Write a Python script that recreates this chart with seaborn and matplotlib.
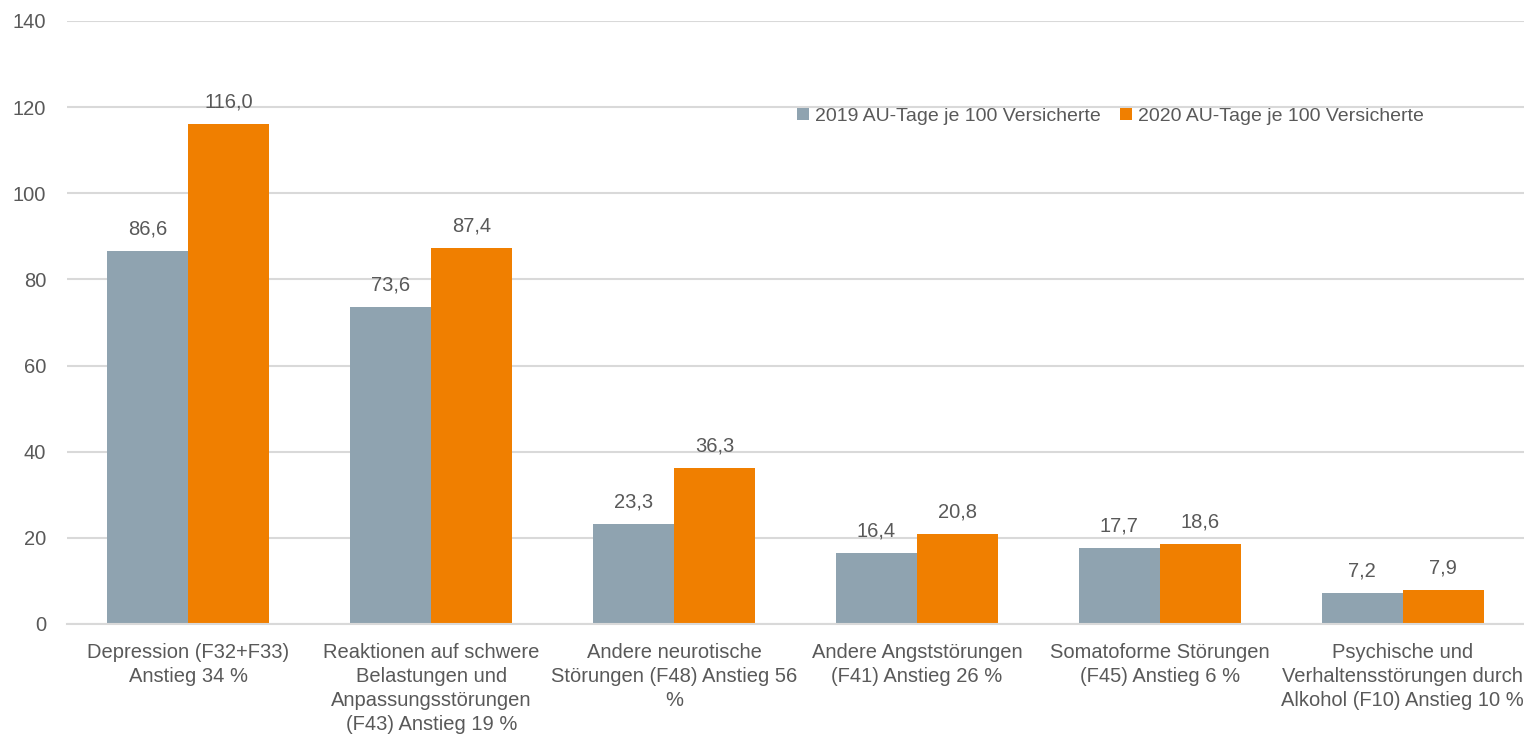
import numpy as np
import pandas as pd
import matplotlib
matplotlib.use("Agg")
import matplotlib.pyplot as plt
import seaborn as sns

kategorien = [
    "Depression (F32+F33)\nAnstieg 34 %",
    "Reaktionen auf schwere\nBelastungen und\nAnpassungsstörungen\n(F43) Anstieg 19 %",
    "Andere neurotische\nStörungen (F48) Anstieg 56\n%",
    "Andere Angststörungen\n(F41) Anstieg 26 %",
    "Somatoforme Störungen\n(F45) Anstieg 6 %",
    "Psychische und\nVerhaltensstörungen durch\nAlkohol (F10) Anstieg 10 %",
]
werte_2019 = [86.6, 73.6, 23.3, 16.4, 17.7, 7.2]
werte_2020 = [116.0, 87.4, 36.3, 20.8, 18.6, 7.9]
serien = ["2019 AU-Tage je 100 Versicherte", "2020 AU-Tage je 100 Versicherte"]

sns.set_theme(style="white")
plt.rcParams["font.family"] = ["Liberation Sans Narrow", "Liberation Sans", "DejaVu Sans"]
text_farbe = "#595959"

df = pd.DataFrame({
    "Kategorie": kategorien * 2,
    "Wert": werte_2019 + werte_2020,
    "Serie": [serien[0]] * len(kategorien) + [serien[1]] * len(kategorien),
})

fig = plt.figure(figsize=(15.24, 7.49), dpi=100)
ax = fig.add_axes([0.044, 0.167, 0.956, 0.805])

sns.barplot(
    data=df, x="Kategorie", y="Wert", hue="Serie",
    palette=["#8FA3B0", "#F07F00"], width=0.667, saturation=1,
    edgecolor="none", ax=ax,
)

for cont in ax.containers:
    ax.bar_label(cont, labels=[f"{v:.1f}".replace(".", ",") for v in cont.datavalues],
                 padding=9, fontsize=14.5, color=text_farbe)

ax.set_ylim(0, 140)
ax.set_yticks(range(0, 141, 20))
ax.set_xlim(-0.5, len(kategorien) - 0.5)
ax.yaxis.grid(True, color="#D9D9D9", linewidth=1.5)
ax.set_axisbelow(True)
for s in ["top", "right", "left"]:
    ax.spines[s].set_visible(False)
ax.spines["bottom"].set_color("#D9D9D9")
ax.spines["bottom"].set_linewidth(1.5)
ax.tick_params(axis="both", length=0, labelsize=14.5, colors=text_farbe)
ax.tick_params(axis="x", pad=14)
ax.tick_params(axis="y", pad=15)
for lbl in ax.get_xticklabels():
    lbl.set_verticalalignment("top")
    lbl.set_linespacing(1.32)
ax.set_xlabel("")
ax.set_ylabel("")

ax.legend(
    loc="center left", bbox_to_anchor=(0.496, 0.842), ncol=2, frameon=False,
    fontsize=14, labelcolor=text_farbe, handlelength=0.6, handleheight=0.6,
    handletextpad=0.3, columnspacing=1.0, borderaxespad=0,
)

fig.savefig("out.png", dpi=100)
